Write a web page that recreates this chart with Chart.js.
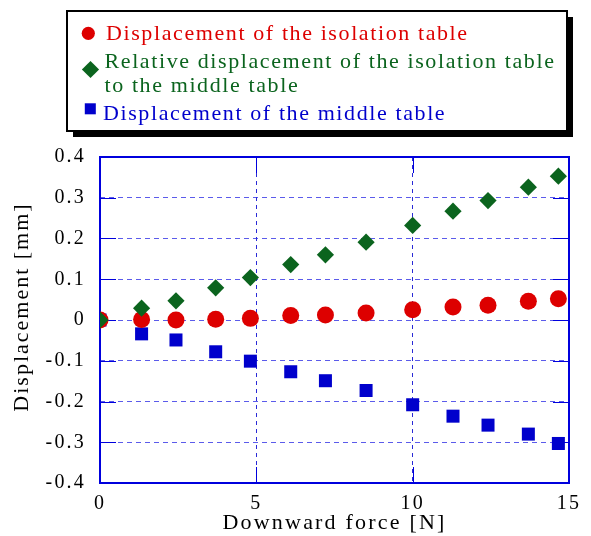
<!DOCTYPE html>
<html>
<head>
<meta charset="utf-8">
<script src="https://cdn.jsdelivr.net/npm/chart.js@4.4.1/dist/chart.umd.min.js"></script>
<style>
  html, body { margin: 0; padding: 0; background: #fff; }
  #wrap { width: 591px; height: 536px; }
</style>
</head>
<body>
<div id="wrap"><canvas id="grafico" width="591" height="536"></canvas></div>
<script>
// Dados
const forca = [0, 1.33, 2.43, 3.7, 4.81, 6.1, 7.21, 8.51, 10.0, 11.29, 12.41, 13.7, 14.66];
const deslIsolamento = [0, 0.001, 0, 0.002, 0.004, 0.011, 0.012, 0.017, 0.025, 0.032, 0.036, 0.046, 0.052];
const deslRelativo = [0, 0.029, 0.047, 0.079, 0.104, 0.136, 0.16, 0.191, 0.232, 0.267, 0.293, 0.326, 0.353];
const deslMeio = [0, -0.034, -0.049, -0.078, -0.101, -0.127, -0.149, -0.173, -0.208, -0.236, -0.258, -0.28, -0.303];

const nomesSeries = [
    ['Displacement of the isolation table'],
    ['Relative displacement of the isolation table', 'to the middle table'],
    ['Displacement of the middle table']
];
const coresSeries = ['#dd0000', '#0b641e', '#0000cc'];

const xTicks = [0, 5, 10, 15];
const xTickLabels = ['0', '5', '10', '15'];
const yTicks = [-0.4, -0.3, -0.2, -0.1, 0, 0.1, 0.2, 0.3, 0.4];
const yTickLabels = ['-0.4', '-0.3', '-0.2', '-0.1', '0', '0.1', '0.2', '0.3', '0.4'];

const tituloX = 'Downward force [N]';
const tituloY = 'Displacement [mm]';

const fonteSerif = '"Liberation Serif", "Times New Roman", serif';
Chart.defaults.font.family = fonteSerif;
Chart.defaults.color = '#000';

function pontos(valores) {
    return forca.map((x, i) => ({ x: x, y: valores[i] }));
}

// moldura, marcas internas, legenda e título do eixo y
const molduraPlugin = {
    id: 'moldura',
    beforeUpdate(chart) { chart.ctx.letterSpacing = '2.2px'; },
    beforeDraw(chart) { chart.ctx.letterSpacing = '2.2px'; },
    beforeDatasetsDraw(chart) {
        const ctx = chart.ctx;
        const a = chart.chartArea;
        const sx = chart.scales.x, sy = chart.scales.y;
        ctx.save();
        ctx.strokeStyle = '#0000dd';
        ctx.lineWidth = 1;
        ctx.beginPath();
        yTicks.forEach(v => {
            const y = Math.round(sy.getPixelForValue(v)) + 0.5;
            ctx.moveTo(a.left, y); ctx.lineTo(a.left + 16, y);
            ctx.moveTo(a.right - 16, y); ctx.lineTo(a.right, y);
        });
        xTicks.forEach(v => {
            const x = Math.round(sx.getPixelForValue(v)) + 0.5;
            ctx.moveTo(x, a.bottom); ctx.lineTo(x, a.bottom - 16);
            ctx.moveTo(x, a.top); ctx.lineTo(x, a.top + 16);
        });
        ctx.stroke();
        ctx.lineWidth = 2;
        ctx.strokeRect(a.left, a.top, a.right - a.left, a.bottom - a.top);
        ctx.restore();
    },
    afterDraw(chart) {
        const ctx = chart.ctx;
        ctx.save();
        // caixa da legenda com sombra
        ctx.fillStyle = '#000';
        ctx.fillRect(73, 17, 500, 120);
        ctx.fillStyle = '#fff';
        ctx.fillRect(67, 11, 500, 120);
        ctx.lineWidth = 2;
        ctx.strokeStyle = '#000';
        ctx.strokeRect(67, 11, 500, 120);

        ctx.font = '22px ' + fonteSerif;
        ctx.letterSpacing = '1.6px';
        ctx.textBaseline = 'alphabetic';
        ctx.textAlign = 'left';
        const baselines = [[40], [68.3, 91.7], [120]];
        const textoX = [106, 104.5, 103];
        const marcas = [
            { x: 88.3, y: 33.3 },
            { x: 90.5, y: 69.5 },
            { x: 90.3, y: 108.8 }
        ];
        chart.data.datasets.forEach((ds, i) => {
            ctx.fillStyle = coresSeries[i];
            Chart.helpers.drawPoint(ctx, {
                pointStyle: ds.pointStyle,
                radius: [6.6, 8.6, 7.8][i],
                rotation: 0,
                borderWidth: 0
            }, marcas[i].x, marcas[i].y);
            ctx.fillStyle = coresSeries[i];
            nomesSeries[i].forEach((linha, j) => {
                ctx.fillText(linha, textoX[i], baselines[i][j]);
            });
        });

        // título do eixo y
        ctx.fillStyle = '#000';
        ctx.letterSpacing = '2px';
        ctx.textAlign = 'center';
        ctx.textBaseline = 'middle';
        ctx.translate(22, 307);
        ctx.rotate(-Math.PI / 2);
        ctx.fillText(tituloY, 0, 0);
        ctx.restore();
    }
};

const ctx = document.getElementById('grafico').getContext('2d');
const grafico = new Chart(ctx, {
    type: 'scatter',
    data: {
        datasets: [
            {
                label: nomesSeries[0].join(' '),
                data: pontos(deslIsolamento),
                pointStyle: 'circle',
                pointRadius: 8.5,
                backgroundColor: coresSeries[0],
                borderWidth: 0,
                order: 1
            },
            {
                label: nomesSeries[1].join(' '),
                data: pontos(deslRelativo),
                pointStyle: 'rectRot',
                pointRadius: 8.6,
                backgroundColor: coresSeries[1],
                borderWidth: 0,
                order: 0
            },
            {
                label: nomesSeries[2].join(' '),
                data: pontos(deslMeio),
                pointStyle: 'rect',
                pointRadius: 9.2,
                backgroundColor: coresSeries[2],
                borderWidth: 0,
                order: 2
            }
        ]
    },
    options: {
        responsive: false,
        animation: false,
        events: [],
        layout: { padding: { top: 157, right: 22, bottom: 0, left: 0 } },
        plugins: {
            legend: { display: false },
            tooltip: { enabled: false }
        },
        scales: {
            x: {
                type: 'linear',
                min: 0,
                max: 15,
                afterBuildTicks: s => { s.ticks = xTicks.map(v => ({ value: v })); },
                afterFit: s => { s.height = 53; },
                ticks: {
                    padding: 9,
                    maxRotation: 0,
                    font: { size: 20 },
                    callback: (v, i) => xTickLabels[i]
                },
                grid: {
                    color: '#2a2ad6',
                    lineWidth: 1,
                    drawTicks: false
                },
                border: { display: false, dash: [4, 4] },
                title: {
                    display: true,
                    text: tituloX,
                    font: { size: 22 },
                    padding: { top: 0, bottom: 0 }
                }
            },
            y: {
                type: 'linear',
                min: -0.4,
                max: 0.4,
                afterBuildTicks: s => { s.ticks = yTicks.map(v => ({ value: v })); },
                afterFit: s => { s.width = 100; },
                ticks: {
                    padding: 14,
                    font: { size: 20 },
                    callback: (v, i) => yTickLabels[i]
                },
                grid: {
                    color: 'rgba(50, 50, 230, 0.8)',
                    lineWidth: 1,
                    drawTicks: false
                },
                border: { display: false, dash: [5, 4] }
            }
        }
    },
    plugins: [molduraPlugin]
});
console.log('chart area:', grafico.chartArea);
</script>
</body>
</html>
